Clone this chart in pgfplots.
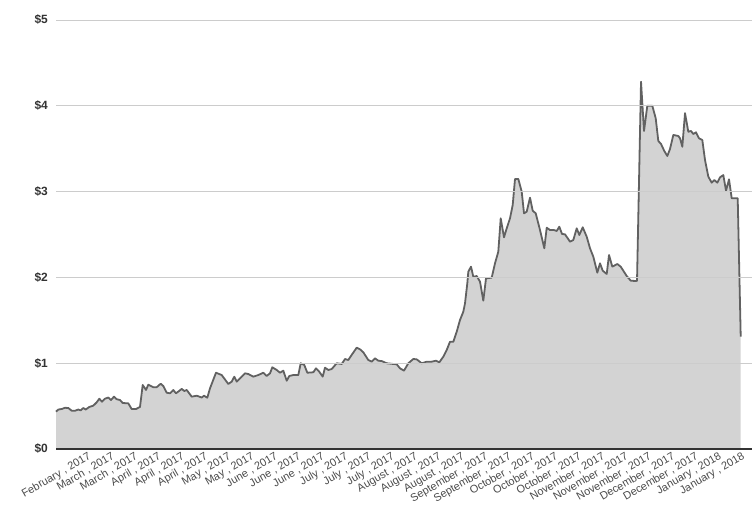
\documentclass[border=0pt]{standalone}
\usepackage{pgfplots}
\pgfplotsset{compat=1.18}
\usepackage{fontspec}
\setmainfont{Liberation Sans}
\definecolor{linegray}{HTML}{616161}
\definecolor{fillgray}{HTML}{D3D3D3}
\definecolor{gridgray}{HTML}{CCCCCC}
\definecolor{labdark}{HTML}{333333}
\definecolor{labgray}{HTML}{4A4A4A}
\begin{document}
\begin{tikzpicture}[x=1bp,y=1bp]
\useasboundingbox (0,0) rectangle (752,511);
\begin{axis}[
  at={(56bp,62bp)}, anchor=south west,
  scale only axis, width=696bp, height=429bp,
  xmin=0, xmax=696, ymin=0, ymax=5,
  axis x line*=bottom, axis y line*=left,
  x axis line style={draw=labdark, line width=1.4pt, -},
  y axis line style={draw=none},
  axis on top,
  ytick={0,1,2,3,4,5},
  yticklabels={\$0,\$1,\$2,\$3,\$4,\$5},
  ymajorgrids, grid style={gridgray, line width=0.9pt},
  major tick length=0pt,
  yticklabel style={font=\fontsize{12}{14}\selectfont\bfseries, text=labdark, anchor=east, inner sep=0pt, xshift=-8bp},
  xtick={30,53.4,76.7,100.1,123.4,146.8,170.1,193.5,216.9,240.2,263.6,286.9,310.3,333.6,357.0,380.4,403.7,427.1,450.4,473.8,497.1,520.5,543.9,567.2,590.6,613.9,637.3,660.6,684.0},
  xticklabels={{February , 2017},{March , 2017},{March , 2017},{April , 2017},{April , 2017},{April , 2017},{May , 2017},{May , 2017},{June , 2017},{June , 2017},{June , 2017},{July , 2017},{July , 2017},{July , 2017},{August , 2017},{August , 2017},{August , 2017},{September , 2017},{September , 2017},{October , 2017},{October , 2017},{October , 2017},{November , 2017},{November , 2017},{November , 2017},{December , 2017},{December , 2017},{January , 2018},{January , 2018}},
  xticklabel style={font=\fontsize{11}{12}\selectfont, text=labgray, rotate=30, anchor=north east, inner sep=0pt, yshift=-3bp},
  clip=false,
]
\pgfplotstableread{
x y
0 0.435
2.3 0.46
5.7 0.466
9 0.48
12.3 0.478
15.7 0.446
19 0.446
22.3 0.46
24.7 0.45
27.3 0.478
29.7 0.46
33.3 0.49
37.3 0.505
40.7 0.544
43.3 0.586
46 0.551
49 0.586
52.3 0.60
55 0.571
58 0.61
60.7 0.58
64 0.571
66.7 0.536
72.3 0.532
75.7 0.466
80 0.466
84 0.49
86.7 0.746
90 0.688
92.3 0.75
97.3 0.72
100.7 0.72
104.7 0.761
107.3 0.734
110.7 0.656
114 0.649
117.3 0.688
120 0.649
125.7 0.70
128.3 0.676
130.7 0.688
135.7 0.61
140.7 0.621
145.7 0.60
148 0.621
151.3 0.598
154 0.707
160 0.889
165.7 0.862
172.3 0.758
175.7 0.785
178.3 0.843
180.7 0.785
184 0.824
189 0.882
192.3 0.874
197.3 0.843
202.3 0.862
207.3 0.889
210.7 0.851
214 0.882
216.3 0.952
220.7 0.921
224 0.889
227.3 0.913
230.7 0.796
233.3 0.851
237.3 0.862
242.3 0.862
244.7 0.999
248.3 0.979
251.3 0.889
257.3 0.894
260 0.94
263.3 0.90
266.7 0.843
269 0.948
272.3 0.921
275.7 0.932
280.7 0.999
285.7 0.991
289 1.049
292.3 1.037
296.3 1.107
300.7 1.181
304 1.162
307.3 1.127
312.3 1.037
315.7 1.018
319 1.057
322.3 1.029
325.7 1.025
330.7 0.999
340.7 0.987
344 0.94
348 0.913
352.3 0.999
357.3 1.049
360.7 1.045
365.7 0.999
370.7 1.018
375.7 1.018
380 1.029
383.3 1.01
387.3 1.076
390.7 1.154
394 1.25
397.3 1.25
400.7 1.367
404 1.504
407.3 1.60
409 1.698
411.3 1.931
412.3 2.067
415 2.125
417.3 2.008
420.7 2.016
424 1.95
427.3 1.729
430 1.989
435.7 1.997
439 2.164
442.3 2.30
444.7 2.689
448 2.467
450.7 2.572
454 2.689
456.7 2.844
459 3.147
462.3 3.147
465.7 2.999
468 2.747
470.7 2.766
474 2.929
476.7 2.777
479.7 2.747
484 2.552
488.3 2.339
490.7 2.579
494 2.552
498 2.552
500.7 2.541
503.3 2.591
506 2.506
509 2.502
514 2.416
517.3 2.436
520.7 2.572
523.3 2.494
526.7 2.584
530.7 2.474
534 2.339
537.3 2.241
541.3 2.055
544 2.164
546.7 2.078
550.7 2.04
553 2.261
556.3 2.125
561.3 2.156
564.7 2.125
570.7 2.016
574.7 1.962
579 1.958
581 1.96
585 4.281
588 3.706
591.3 4.001
596.3 4.001
599.7 3.854
602.3 3.59
605 3.555
608.3 3.473
611.3 3.415
614 3.497
617.3 3.66
622.3 3.648
624 3.621
626.3 3.523
629 3.914
632.3 3.698
635 3.706
637.3 3.671
640 3.691
643 3.621
646.3 3.601
649 3.368
652.3 3.174
655.7 3.104
658.3 3.135
661.3 3.104
664 3.166
667.3 3.193
670 3.01
673 3.143
675.7 2.922
681.7 2.922
684.7 1.309
}\price
\addplot[fill=fillgray, draw=none] table[x=x,y=y]{\price} \closedcycle;
\addplot[linegray, line width=1.8pt, line join=round] table[x=x,y=y]{\price};
\end{axis}
\end{tikzpicture}
\end{document}
